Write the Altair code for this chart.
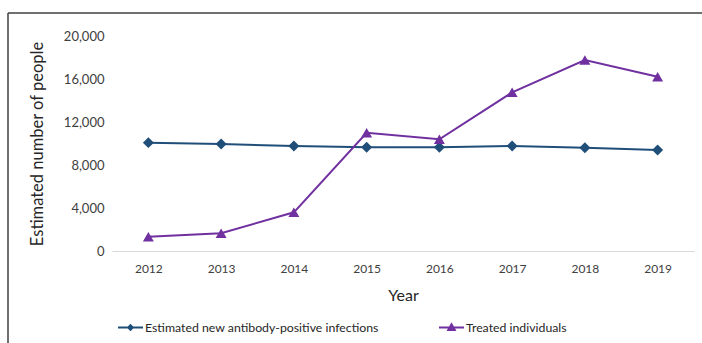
import altair as alt
import pandas as pd

years = ["2012", "2013", "2014", "2015", "2016", "2017", "2018", "2019"]
new_infections = [10080, 9950, 9770, 9650, 9650, 9770, 9610, 9400]
treated = [1330, 1650, 3600, 11000, 10390, 14760, 17770, 16210]
series_names = ["Estimated new antibody-positive infections", "Treated individuals"]
colors = ["#1F4E79", "#7030A0"]
marker_shapes = ["diamond", "triangle-up"]
y_ticks = [0, 4000, 8000, 12000, 16000, 20000]

rows = []
for i, yr in enumerate(years):
    rows.append({"Year": yr, "value": new_infections[i], "series": series_names[0]})
    rows.append({"Year": yr, "value": treated[i], "series": series_names[1]})
df = pd.DataFrame(rows)

FONT = "Lato"

x_enc = alt.X("Year:O", sort=years,
              scale=alt.Scale(type="point", padding=0.5),
              axis=alt.Axis(title="Year", labelAngle=0, ticks=False,
                            domainColor="#D9D9D9", domainWidth=1,
                            labelFont=FONT, labelFontSize=12, labelColor="#404040",
                            labelPadding=12, titleFont=FONT, titleFontSize=16,
                            titleFontWeight="normal", titleColor="#262626",
                            titlePadding=13))
y_enc = alt.Y("value:Q", scale=alt.Scale(domain=[0, 20000], nice=False),
              axis=alt.Axis(title="Estimated number of people", values=y_ticks,
                            format=",.0f", grid=False, domain=False, ticks=False,
                            labelFont=FONT, labelFontSize=13, labelColor="#404040",
                            labelPadding=8, titleFont=FONT, titleFontSize=16.5,
                            titleFontWeight="normal", titleColor="#262626",
                            titlePadding=18))

base = alt.Chart(df)

series_layers = []
for name, col, shp in zip(series_names, colors, marker_shapes):
    sub = base.transform_filter(alt.datum.series == name)
    series_layers.append(sub.mark_line(strokeWidth=2, color=col).encode(x=x_enc, y=y_enc))
    series_layers.append(
        sub.mark_point(filled=True, size=120, opacity=1, shape=shp, color=col)
        .encode(x=x_enc, y=y_enc)
    )

# legend symbols: a short line with the marker on it (filled paths, clockwise)
legend_paths = [
    "M-1,-0.08H1V0.08H-1Z M0,-0.3L0.3,0L0,0.3L-0.3,0Z",
    "M-1,-0.08H1V0.08H-1Z M0,-0.42L0.4,0.28L-0.4,0.28Z",
]
leg = alt.Legend(title=None, orient="none", direction="horizontal",
                 legendX=6, legendY=279, padding=0,
                 symbolSize=625, symbolStrokeWidth=0, symbolOpacity=1,
                 labelFont=FONT, labelFontSize=12.3, labelColor="#262626",
                 labelLimit=500, labelOffset=2, columnPadding=60)

legend_layer = base.mark_point(filled=True, size=0, opacity=0).encode(
    x=x_enc, y=y_enc,
    shape=alt.Shape("series:N", scale=alt.Scale(domain=series_names, range=legend_paths), legend=leg),
    color=alt.Color("series:N", scale=alt.Scale(domain=series_names, range=colors), legend=leg),
)

frame_df = pd.DataFrame({"k": [0]})
frame_v = alt.Chart(frame_df).mark_rule(color="#404040", strokeWidth=1.5).encode(
    x=alt.value(-104), y=alt.value(-23), y2=alt.value(330))
frame_h = alt.Chart(frame_df).mark_rule(color="#404040", strokeWidth=1.5).encode(
    x=alt.value(-104), x2=alt.value(620), y=alt.value(-23))

chart = alt.layer(*series_layers, legend_layer, frame_v, frame_h).properties(
    width=582, height=215,
    autosize=alt.AutoSizeParams(type="none"),
    padding={"left": 112, "top": 36, "right": 8, "bottom": 92},
    background="white",
).configure_view(stroke=None)

chart.save("out.html", embed_options={"renderer": "svg", "actions": False})
